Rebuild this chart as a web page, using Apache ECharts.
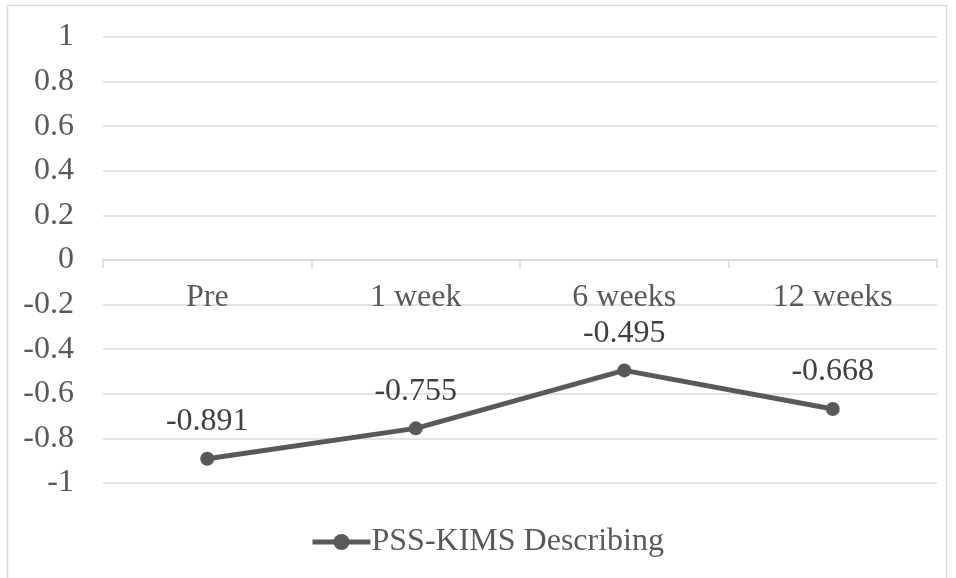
<!DOCTYPE html>
<html>
<head>
<meta charset="utf-8">
<style>
  html, body { margin: 0; padding: 0; background: #ffffff; }
  #chart { width: 956px; height: 578px; }
</style>
<script src="https://cdn.jsdelivr.net/npm/echarts@6/dist/echarts.min.js"></script>
</head>
<body>
<div id="chart"></div>
<script>
// Time points and mean scores
const categories = ['Pre', '1 week', '6 weeks', '12 weeks'];
const describingValues = [-0.891, -0.755, -0.495, -0.668];
const seriesName = 'PSS-KIMS Describing';
const yTicks = { min: -1, max: 1, step: 0.2 };

const fontFamily = '"Liberation Serif", "Times New Roman", serif';
const fontSize = 32;
const gridTop = 37;
const gridHeight = 446;
const chart = echarts.init(document.getElementById('chart'), null, { renderer: 'canvas' });

// Category axis sits on the zero line: shift it up from the grid bottom
const zeroOffset = -gridHeight * (0 - yTicks.min) / (yTicks.max - yTicks.min);

chart.setOption({
  animation: false,
  backgroundColor: '#ffffff',
  graphic: [{
    type: 'rect',
    shape: { x: 7.5, y: 5.5, width: 939, height: 590 },
    style: { fill: 'none', stroke: '#d9d9d9', lineWidth: 1.5 },
    silent: true,
    z: -1
  }],
  grid: { left: 103, right: 19, top: gridTop, height: gridHeight, containLabel: false },
  legend: {
    bottom: 15,
    left: 305,
    itemWidth: 58,
    itemHeight: 20,
    itemGap: 4,
    lineStyle: { width: 5, color: '#595959' },
    itemStyle: { color: '#595959' },
    textStyle: { fontFamily, fontSize, color: '#595959', padding: [0, 0, 0, -4] },
    data: [seriesName]
  },
  xAxis: {
    type: 'category',
    data: categories,
    boundaryGap: true,
    position: 'bottom',
    offset: zeroOffset,
    axisLine: { onZero: false, lineStyle: { color: '#d9d9d9', width: 1.5 } },
    axisTick: { show: true, length: 8, lineStyle: { color: '#d9d9d9', width: 1.5 } },
    axisLabel: { margin: 22, fontFamily, fontSize, color: '#595959' },
    splitLine: { show: false }
  },
  yAxis: {
    type: 'value',
    min: yTicks.min,
    max: yTicks.max,
    interval: yTicks.step,
    axisLine: { show: false },
    axisTick: { show: false },
    axisLabel: {
      margin: 29,
      fontFamily, fontSize, color: '#595959',
      formatter: v => String(Math.round(v * 10) / 10)
    },
    splitLine: { lineStyle: { color: '#d9d9d9', width: 1.5 } }
  },
  series: [{
    name: seriesName,
    type: 'line',
    data: describingValues,
    symbol: 'circle',
    symbolSize: 14,
    lineStyle: { color: '#595959', width: 5 },
    itemStyle: { color: '#595959' },
    label: {
      show: true,
      position: 'top',
      distance: 14,
      fontFamily, fontSize, color: '#404040',
      formatter: p => p.value.toFixed(3)
    }
  }]
});
</script>
</body>
</html>
